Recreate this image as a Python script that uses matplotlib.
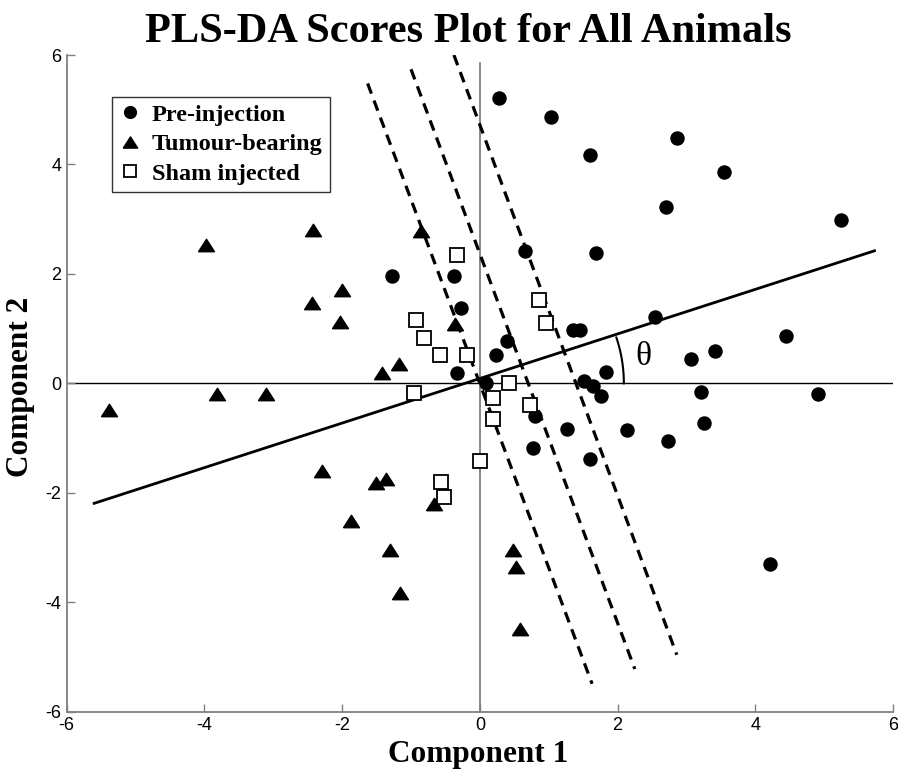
import numpy as np
import matplotlib
matplotlib.use("Agg")
import matplotlib.pyplot as plt
from matplotlib.path import Path

plt.rcParams["axes.unicode_minus"] = False

# ---------------- data ----------------
pre_x = [-1.27, -0.38, -0.28, -0.33, 0.09, 0.23, 0.285, 1.03, 2.86, 1.60, 3.54, 2.71,
         5.24, 0.65, 1.68, 2.55, 1.36, 1.46, 4.44, 3.42, 3.06, 0.39, 1.83, 1.51,
         1.65, 1.76, 3.21, 4.91, 3.26, 0.80, 1.27, 2.13, 2.73, 0.77, 1.60, 4.22]
pre_y = [1.96, 1.96, 1.37, 0.18, 0.01, 0.51, 5.21, 4.86, 4.49, 4.17, 3.87, 3.23,
         2.99, 2.41, 2.39, 1.21, 0.97, 0.97, 0.86, 0.59, 0.44, 0.77, 0.21, 0.04,
         -0.04, -0.24, -0.15, -0.20, -0.72, -0.60, -0.84, -0.86, -1.06, -1.18, -1.38, -3.31]

tum_x = [-3.98, -2.43, -0.85, -2.44, -2.00, -2.03, -0.36, -1.18, -1.42,
         -5.39, -3.81, -3.10, -2.29, -1.51, -1.36, -1.87, -0.67, -1.31, -1.16,
         0.48, 0.52, 0.58]
tum_y = [2.53, 2.81, 2.79, 1.47, 1.71, 1.12, 1.08, 0.36, 0.19,
         -0.48, -0.20, -0.20, -1.61, -1.82, -1.74, -2.51, -2.21, -3.04, -3.84,
         -3.04, -3.36, -4.49]

sham_x = [-0.33, -0.93, -0.81, -0.58, -0.18, 0.855, 0.96, 0.43,
          -0.96, 0.00, -0.57, -0.52, 0.19, 0.19, 0.73]
sham_y = [2.34, 1.16, 0.83, 0.51, 0.51, 1.53, 1.10, 0.00,
          -0.17, -1.42, -1.80, -2.07, -0.27, -0.66, -0.40]

# discriminant direction line and dashed boundaries (endpoints in data units)
axis_line_x = [-5.62, 5.75]
axis_line_y = [-2.20, 2.43]
dash_lines_x = [[-1.63, 1.63], [-1.00, 2.25], [-0.377, 2.86]]
dash_lines_y = [[5.48, -5.49], [5.74, -5.22], [6.00, -4.96]]

labels = ["Pre-injection", "Tumour-bearing", "Sham injected"]
ticks = [-6, -4, -2, 0, 2, 4, 6]
title = "PLS-DA Scores Plot for All Animals"

# ---------------- figure ----------------
W, H = 898, 770
fig = plt.figure(figsize=(W / 100, H / 100), dpi=100)
ax = fig.add_axes([66.7 / W, (H - 711.7) / H, (893 - 66.7) / W, (711.7 - 55) / H])
ax.set_xlim(-6, 6)
ax.set_ylim(-6, 6)

serif = "Liberation Serif"
sans = "Liberation Sans"

# zero lines
ax.axhline(0, color="black", lw=1.0, zorder=1)
ax.plot([0, 0], [-6, 5.85], color="#808080", lw=1.3, zorder=1)

# solid discriminant line
ax.plot(axis_line_x, axis_line_y, color="black", lw=2.0, zorder=2, solid_capstyle="butt")
# dashed lines
for xs, ys in zip(dash_lines_x, dash_lines_y):
    ax.plot(xs, ys, color="black", lw=2.3, linestyle=(0, (3.4, 2.3)), zorder=2)

# theta arc (circular in pixel space)
fig.canvas.draw()
p0 = ax.transData.transform((0, 0))
p1 = ax.transData.transform((1, 1))
kx, ky = p1[0] - p0[0], p1[1] - p0[1]
ang = np.arctan2(axis_line_y[1] * ky, axis_line_x[1] * kx)
r_px = 144
t = np.linspace(0, ang, 50)
ax.plot(r_px * np.cos(t) / kx, r_px * np.sin(t) / ky, color="black", lw=1.5, zorder=2)
ax.text(164 / kx, 27 / ky, "θ", fontsize=24, family=serif,
        ha="center", va="center", color="black")

# markers
tri = Path([(-1, -0.78), (1, -0.78), (0, 0.78), (-1, -0.78)])
ax.plot(pre_x, pre_y, linestyle="none", marker="o", ms=9.4, color="black",
        label=labels[0], zorder=3)
ax.plot(tum_x, tum_y, linestyle="none", marker=tri, ms=11.5, color="black",
        label=labels[1], zorder=3)
ax.plot(sham_x, sham_y, linestyle="none", marker="s", ms=9.5, mfc="white",
        mec="black", mew=1.3, label=labels[2], zorder=3)

# spines / ticks
for s in ["top", "right"]:
    ax.spines[s].set_visible(False)
for s in ["left", "bottom"]:
    ax.spines[s].set_color("#808080")
    ax.spines[s].set_linewidth(1.3)
ax.set_xticks(ticks)
ax.set_yticks(ticks)
ax.tick_params(direction="in", length=6, width=1.0, color="#808080",
               labelsize=13, pad=4)
for lab in ax.get_xticklabels() + ax.get_yticklabels():
    lab.set_family(sans)

leg = ax.legend(loc="upper left", bbox_to_anchor=((111.7 - 66.7) / (893 - 66.7),
                                                 (711.7 - 96.7) / (711.7 - 55)),
                borderaxespad=0, frameon=True, fancybox=False, shadow=False,
                prop={"family": serif, "weight": "bold", "size": 17.5},
                handlelength=0.9, handletextpad=0.45, borderpad=0.3,
                labelspacing=0.3, markerscale=0.9)
leg.get_frame().set_edgecolor("black")
leg.get_frame().set_linewidth(1.0)

# title and axis labels
fig.text(468 / W, (H - 41.7) / H, title, ha="center", va="baseline",
         family=serif, weight="bold", fontsize=30.5)
fig.text(478 / W, (H - 762) / H, "Component 1", ha="center", va="baseline",
         family=serif, weight="bold", fontsize=22.5)
fig.text(21 / W, (H - 386.5) / H, "Component 2", ha="center", va="center",
         rotation=90, family=serif, weight="bold", fontsize=22.5)

fig.savefig("out.png", dpi=100)
